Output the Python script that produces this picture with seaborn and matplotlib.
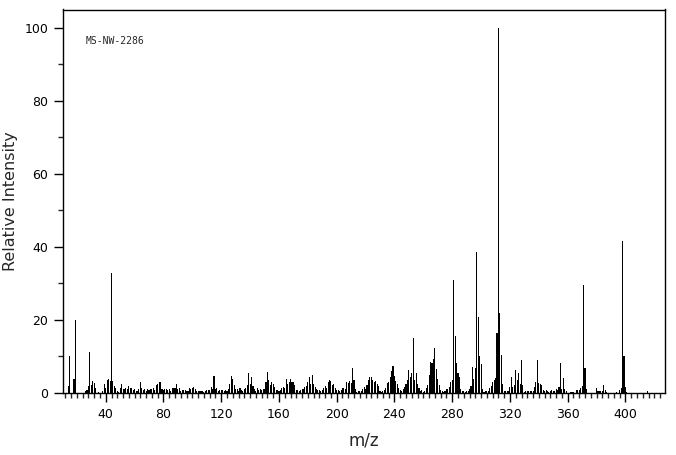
import numpy as np
import pandas as pd
import matplotlib
matplotlib.use("Agg")
import matplotlib.pyplot as plt
from matplotlib.ticker import MultipleLocator
import seaborn as sns

# m/z values and relative intensities
mz = [14, 15, 18, 19, 26, 27, 28, 29, 30, 31, 32, 33, 35, 38, 39, 40, 41, 42, 43, 44,
      45, 46, 47, 48, 49, 50, 51, 52, 53, 54, 55, 56, 57, 58, 59, 60, 61, 62, 63, 64,
      65, 66, 67, 68, 69, 70, 71, 72, 73, 74, 75, 76, 77, 78, 79, 80, 81, 82, 83, 84,
      85, 86, 87, 88, 89, 90, 91, 92, 93, 94, 95, 96, 97, 98, 99, 100, 101, 102, 103, 104,
      105, 106, 107, 108, 109, 110, 111, 112, 113, 114, 115, 116, 117, 118, 119, 120, 121, 122, 123, 124,
      125, 126, 127, 128, 129, 130, 131, 132, 133, 134, 135, 136, 137, 138, 139, 140, 141, 142, 143, 144,
      145, 146, 147, 148, 149, 150, 151, 152, 153, 154, 155, 156, 157, 158, 159, 160, 161, 162, 163, 164,
      165, 166, 167, 168, 169, 170, 171, 172, 173, 174, 175, 176, 177, 178, 179, 180, 181, 182, 183, 184,
      185, 186, 187, 188, 189, 190, 191, 192, 193, 194, 195, 196, 197, 198, 199, 200, 201, 202, 203, 204,
      205, 206, 207, 208, 209, 210, 211, 212, 213, 214, 215, 216, 217, 218, 219, 220, 221, 222, 223, 224,
      225, 226, 227, 228, 229, 230, 231, 232, 233, 234, 235, 236, 237, 238, 239, 240, 241, 242, 243, 244,
      245, 246, 247, 248, 249, 250, 251, 252, 253, 254, 255, 256, 257, 258, 259, 260, 261, 262, 263, 264,
      265, 266, 267, 268, 269, 270, 271, 272, 273, 274, 275, 276, 277, 278, 279, 280, 281, 282, 283, 284,
      285, 286, 287, 288, 289, 290, 291, 292, 293, 294, 295, 296, 297, 298, 299, 300, 301, 302, 303, 304,
      305, 306, 307, 308, 309, 310, 311, 312, 313, 314, 315, 316, 317, 318, 319, 320, 321, 322, 323, 324,
      325, 326, 327, 328, 329, 330, 331, 332, 333, 334, 335, 336, 337, 338, 339, 340, 341, 342, 343, 344,
      345, 346, 347, 348, 349, 350, 351, 352, 353, 354, 355, 356, 357, 358, 359, 362, 363, 364, 366, 367,
      368, 369, 370, 371, 372, 373, 380, 381, 382, 383, 384, 385, 386, 387, 394, 396, 397, 398, 399, 400,
      401, 415]

intensity = [2.0, 10.0, 3.7, 20.0, 0.5, 0.8, 2.0, 11.2, 2.2, 3.3, 2.8, 1.5, 0.4, 0.6, 2.6, 1.5, 3.5, 3.8, 3.3, 32.8,
             3.3, 2.0, 1.3, 0.6, 0.4, 1.3, 2.4, 1.0, 1.0, 1.5, 1.0, 2.0, 1.3, 1.5, 0.8, 1.0, 0.5, 0.6, 1.0, 3.0,
             1.5, 0.8, 1.0, 0.6, 1.0, 0.8, 1.0, 1.0, 1.3, 0.8, 2.2, 2.6, 2.9, 3.0, 1.0, 0.8, 1.0, 1.0, 0.8, 1.0,
             0.6, 1.5, 1.5, 1.5, 2.5, 1.0, 1.5, 0.6, 0.8, 0.8, 0.8, 0.6, 0.5, 1.3, 1.0, 1.5, 1.7, 1.0, 0.6, 0.5,
             0.6, 0.5, 0.6, 0.4, 0.6, 0.9, 0.9, 0.8, 1.7, 1.0, 4.7, 1.2, 1.3, 0.5, 0.8, 0.8, 0.8, 0.6, 0.8, 0.6,
             1.0, 2.5, 4.7, 3.7, 2.2, 1.0, 1.0, 0.6, 1.3, 0.8, 0.6, 1.0, 1.5, 2.2, 5.6, 2.6, 4.3, 1.9, 1.0, 0.6,
             1.3, 0.8, 1.0, 0.8, 1.0, 1.0, 3.1, 5.8, 3.6, 2.2, 2.9, 2.6, 1.7, 0.8, 0.8, 0.6, 0.8, 1.3, 1.7, 1.5,
             3.7, 2.6, 3.0, 3.7, 3.1, 3.1, 2.2, 0.8, 0.8, 0.6, 0.8, 1.2, 1.0, 1.7, 1.9, 3.1, 4.3, 2.6, 4.9, 2.6,
             1.7, 1.0, 0.8, 0.8, 0.6, 0.8, 1.5, 1.9, 1.5, 3.1, 3.6, 3.4, 2.2, 2.6, 1.5, 0.8, 0.8, 0.6, 0.8, 1.3,
             1.5, 1.0, 3.1, 2.8, 3.4, 2.8, 6.8, 3.6, 1.0, 0.4, 0.6, 0.6, 0.5, 1.0, 1.7, 1.2, 2.2, 3.6, 4.3, 4.3,
             3.6, 3.1, 3.4, 2.6, 1.9, 0.6, 0.4, 0.6, 0.8, 1.3, 2.8, 3.1, 4.5, 6.1, 7.4, 4.6, 3.4, 2.6, 1.3, 0.8,
             0.6, 1.0, 1.7, 2.6, 3.6, 6.3, 4.5, 5.4, 15.0, 3.6, 5.6, 2.6, 1.3, 0.6, 0.8, 0.4, 0.6, 1.3, 2.2, 4.9,
             8.6, 8.2, 9.2, 12.2, 6.5, 3.7, 2.2, 0.8, 0.6, 0.4, 0.6, 1.0, 1.0, 1.7, 3.1, 3.6, 31.0, 15.6, 8.2, 5.4,
             4.5, 1.0, 0.6, 0.6, 0.4, 0.6, 0.6, 1.0, 1.9, 7.2, 3.7, 6.8, 38.6, 20.8, 10.0, 8.0, 1.0, 0.4, 0.6, 0.6,
             0.6, 1.3, 1.9, 3.1, 3.6, 4.0, 16.4, 100.0, 21.9, 10.4, 2.6, 0.6, 0.6, 0.5, 0.6, 1.7, 4.5, 1.7, 2.2, 6.3,
             3.6, 5.4, 2.6, 9.0, 2.2, 0.4, 0.5, 0.5, 0.6, 0.5, 0.5, 0.6, 1.7, 3.1, 8.9, 2.8, 2.4, 2.2, 0.8, 0.6,
             0.8, 0.5, 0.4, 0.6, 0.8, 0.6, 0.6, 1.0, 0.8, 1.7, 8.1, 1.0, 4.0, 1.0, 0.6, 0.4, 0.2, 0.4, 0.8, 0.8,
             0.8, 1.3, 1.9, 29.6, 6.8, 1.0, 1.3, 0.5, 0.5, 0.5, 0.5, 2.2, 0.8, 0.4, 0.2, 0.8, 1.3, 41.6, 10.1, 1.7,
             0.4, 0.5]

spectrum = pd.DataFrame({"mz": mz, "intensity": intensity})

sns.set_style("ticks")
plt.rcParams["font.family"] = ["DejaVu Sans"]

fig = plt.figure(figsize=(6.76, 4.55), dpi=100)
ax = fig.add_axes([63 / 676, 62 / 455, 602 / 676, 383.5 / 455])

# stick spectrum: one thin bar per integer m/z
sns.histplot(data=spectrum, x="mz", weights="intensity", discrete=True, shrink=0.75,
             color="black", edgecolor=None, linewidth=0, alpha=1, antialiased=False, ax=ax)

ax.set_xlim(10.4, 427.4)
ax.set_ylim(0, 105)

ax.xaxis.set_major_locator(MultipleLocator(40))
ax.xaxis.set_minor_locator(MultipleLocator(4))
ax.yaxis.set_major_locator(MultipleLocator(20))
ax.yaxis.set_minor_locator(MultipleLocator(10))
ax.tick_params(axis="both", which="major", direction="out", length=6.5, width=1,
               labelsize=9, colors="black", pad=4)
ax.tick_params(axis="both", which="minor", direction="out", length=3.5, width=1)

for sp in ax.spines.values():
    sp.set_visible(True)
    sp.set_color("black")
    sp.set_linewidth(1)

ax.set_xlabel("m/z", fontsize=12, labelpad=8)
ax.set_ylabel("Relative Intensity", fontsize=11.5, labelpad=5)

ax.text(0.038, 0.917, "MS-NW-2286", transform=ax.transAxes, fontsize=7,
        family="DejaVu Sans Mono", va="center", ha="left")

fig.savefig("out.png", dpi=100)
